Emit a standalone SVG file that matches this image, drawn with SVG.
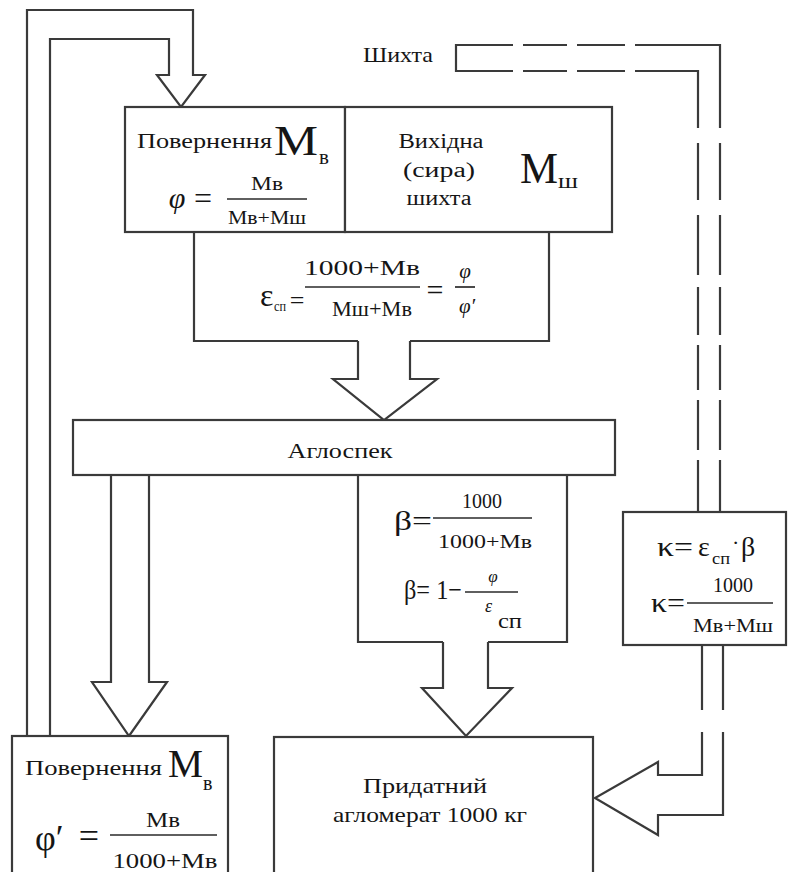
<svg xmlns="http://www.w3.org/2000/svg" width="788" height="872" viewBox="0 0 788 872">
<style>
.ln{fill:none;stroke:#3a3a3a;stroke-width:2.2;stroke-linejoin:miter}
.bx{fill:#fff;stroke:#3a3a3a;stroke-width:2.2}
.bar{stroke:#2a2a2a;stroke-width:1.7}
text{font-family:'Liberation Serif',serif;fill:#151515}
.i{font-style:italic}
.c{text-anchor:middle}
</style>
<rect width="788" height="872" fill="#fff"/>
<g id="connectors">
<path class="ln" d="M27,736 L27,10 L193,10 L193,75 L205,75 L181,107 L157,75 L169,75 L169,39 L50,39 L50,736"/>
<path class="ln" d="M358,341 L358,379 L333,379 L384,420 L437,379 L410,379 L410,341"/>
<path class="ln" d="M111,475 L111,682 L92,682 L129,736 L167,682 L149,682 L149,475"/>
<path class="ln" d="M443,642 L443,688 L422,688 L466,736 L512,688 L488,688 L488,642"/>
<path class="ln" d="M513,45 L456,45 L456,71 L513,71 M523,45 L567,45 M523,71 L567,71 M577,45 L625,45 M577,71 L625,71 M635,45 L720,45 L720,128 M635,71 L698,71 L698,128 M698,143 L698,200 M720,143 L720,200 M698,215 L698,275 M720,215 L720,275 M698,287 L698,335 M720,287 L720,335 M698,345 L698,390 M720,345 L720,390 M698,400 L698,450 M720,400 L720,450 M698,460 L698,512 M720,460 L720,512"/>
<path class="ln" d="M702,645 L702,710 M723,645 L723,710 M702,732 L702,775 L658,775 L658,762 L595,798 L658,835 L658,815 L723,815 L723,732"/>
</g>
<g id="shihta" font-family="Liberation Serif, serif">
<text x="363" y="62" font-size="22" textLength="70" lengthAdjust="spacingAndGlyphs">Шихта</text>
</g>
<g id="povernennia-top" font-family="Liberation Serif, serif">
<rect class="bx" x="125" y="107" width="220" height="125"/>
<text x="137" y="148" font-size="22" textLength="135" lengthAdjust="spacingAndGlyphs">Повернення</text>
<text x="274" y="155" font-size="42" textLength="44" lengthAdjust="spacingAndGlyphs">М</text>
<text x="319" y="164" font-size="21">в</text>
<text class="i c" x="177" y="208" font-size="30">φ</text>
<text class="c" x="203" y="209" font-size="32">=</text>
<text class="c" x="267" y="190" font-size="19" textLength="32" lengthAdjust="spacingAndGlyphs">Мв</text>
<line class="bar" x1="227" y1="199" x2="307" y2="199"/>
<text class="c" x="267" y="224" font-size="19" textLength="78" lengthAdjust="spacingAndGlyphs">Мв+Мш</text>
</g>
<g id="vykhidna" font-family="Liberation Serif, serif">
<rect class="bx" x="345" y="107" width="267" height="125"/>
<text class="c" x="441" y="148" font-size="20" textLength="85" lengthAdjust="spacingAndGlyphs">Вихідна</text>
<text class="c" x="439" y="177" font-size="20" textLength="72" lengthAdjust="spacingAndGlyphs">(сира)</text>
<text class="c" x="439" y="205" font-size="20" textLength="65" lengthAdjust="spacingAndGlyphs">шихта</text>
<text x="520" y="183" font-size="44" textLength="38" lengthAdjust="spacingAndGlyphs">М</text>
<text x="558" y="188" font-size="22" textLength="20" lengthAdjust="spacingAndGlyphs">ш</text>
</g>
<g id="epsilon" font-family="Liberation Serif, serif">
<path class="ln" d="M194,232 L194,341 L358,341 M410,341 L549,341 L549,232"/>
<text x="260" y="306" font-size="32">ε</text>
<text x="274" y="311" font-size="14" textLength="12" lengthAdjust="spacingAndGlyphs">сп</text>
<text class="c" x="297" y="309" font-size="26">=</text>
<text class="c" x="362" y="275" font-size="20" textLength="116" lengthAdjust="spacingAndGlyphs">1000+Мв</text>
<line class="bar" x1="305" y1="287" x2="420" y2="287"/>
<text class="c" x="372" y="316" font-size="20" textLength="80" lengthAdjust="spacingAndGlyphs">Мш+Мв</text>
<text class="c" x="435" y="300" font-size="30">=</text>
<text class="i c" x="465" y="278" font-size="21">φ</text>
<line class="bar" x1="455" y1="287" x2="475" y2="287"/>
<text class="i c" x="467" y="313" font-size="21">φ′</text>
</g>
<g id="aglospek" font-family="Liberation Serif, serif">
<rect class="bx" x="73" y="420" width="542" height="55"/>
<text class="c" x="340" y="458" font-size="21" textLength="105" lengthAdjust="spacingAndGlyphs">Аглоспек</text>
</g>
<g id="beta" font-family="Liberation Serif, serif">
<path class="ln" d="M358,475 L358,642 L443,642 M488,642 L567,642 L567,475"/>
<text x="394" y="530" font-size="28" textLength="38" lengthAdjust="spacingAndGlyphs">β=</text>
<text class="c" x="482" y="508" font-size="20">1000</text>
<line class="bar" x1="433" y1="518" x2="532" y2="518"/>
<text class="c" x="485" y="548" font-size="19" textLength="94" lengthAdjust="spacingAndGlyphs">1000+Мв</text>
<text x="404" y="599" font-size="28" textLength="58" lengthAdjust="spacingAndGlyphs">β= 1−</text>
<text class="i c" x="493" y="582" font-size="17">φ</text>
<line class="bar" x1="465" y1="592" x2="518" y2="592"/>
<text class="i" x="485" y="612" font-size="18">ε</text>
<text x="498" y="628" font-size="20" textLength="24" lengthAdjust="spacingAndGlyphs">сп</text>
</g>
<g id="kappa" font-family="Liberation Serif, serif">
<rect class="bx" x="623" y="512" width="163" height="133"/>
<text x="657" y="556" font-size="28" textLength="36" lengthAdjust="spacingAndGlyphs">κ=</text>
<text x="698" y="556" font-size="28">ε</text>
<text x="712" y="564" font-size="17" textLength="18" lengthAdjust="spacingAndGlyphs">сп</text>
<text x="732" y="550" font-size="22">·</text>
<text x="741" y="556" font-size="28">β</text>
<text x="651" y="612" font-size="28" textLength="34" lengthAdjust="spacingAndGlyphs">κ=</text>
<text class="c" x="733" y="592" font-size="20">1000</text>
<line class="bar" x1="687" y1="603" x2="773" y2="603"/>
<text class="c" x="733" y="632" font-size="19" textLength="80" lengthAdjust="spacingAndGlyphs">Мв+Мш</text>
</g>
<g id="povernennia-bottom" font-family="Liberation Serif, serif">
<rect class="bx" x="12" y="736" width="216" height="150"/>
<text x="25" y="775" font-size="22" textLength="137" lengthAdjust="spacingAndGlyphs">Повернення</text>
<text x="168" y="777" font-size="40" textLength="35" lengthAdjust="spacingAndGlyphs">М</text>
<text x="203" y="790" font-size="20">в</text>
<text x="35" y="850" font-size="36">φ′</text>
<text class="c" x="89" y="848" font-size="36">=</text>
<text class="c" x="163" y="827" font-size="21" textLength="34" lengthAdjust="spacingAndGlyphs">Мв</text>
<line class="bar" x1="110" y1="835" x2="217" y2="835"/>
<text class="c" x="165" y="868" font-size="21" textLength="105" lengthAdjust="spacingAndGlyphs">1000+Мв</text>
</g>
<g id="prydatnyi" font-family="Liberation Serif, serif">
<rect class="bx" x="274" y="737" width="319" height="150"/>
<text class="c" x="425" y="793" font-size="21" textLength="124" lengthAdjust="spacingAndGlyphs">Придатний</text>
<text class="c" x="430" y="822" font-size="21" textLength="194" lengthAdjust="spacingAndGlyphs">агломерат 1000 кг</text>
</g>
</svg>
